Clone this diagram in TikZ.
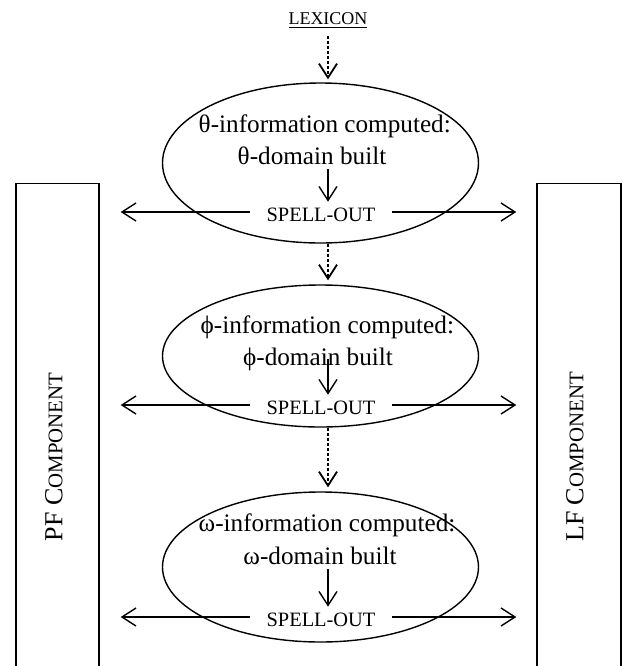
\documentclass[tikz,border=0pt]{standalone}
\usepackage{fontspec}
\setmainfont{Liberation Serif}
\usetikzlibrary{arrows.meta,shapes.geometric}

% faked small capitals
\newcommand{\smcaps}[2]{{\fontsize{13}{15}\selectfont #1}{\fontsize{10.4}{12}\selectfont #2}}

\begin{document}
\begin{tikzpicture}[
        x=0.5pt, y=-0.5pt, line width=0.7pt,
        >={Straight Barb[length=7pt,width=9pt]},
        stage/.style={draw, ellipse, minimum width=158pt, inner sep=0pt},
        txt/.style={font=\fontsize{12.6}{15}\selectfont, inner sep=0pt},
        caps/.style={font=\fontsize{10.2}{12}\selectfont, inner ysep=0pt, inner xsep=8pt, text height=9.6pt, text depth=0pt},
        comp/.style={draw, anchor=north, minimum height=270pt, inner sep=0pt},
        dots/.style={->, dash pattern=on 1.5pt off 1pt, line width=0.9pt}
    ]
        \clip (0,0) rectangle (623,666);
        % the two interface components
        \node[comp, minimum width=41.5pt] (pf) at (57.5,183) {};
        \node[comp, minimum width=42pt] (lf) at (579,183) {};
        \node[rotate=90] (pftext) at (54,457) {\smcaps{PF C}{OMPONENT}};
        \node[rotate=90] (lftext) at (575,457) {\smcaps{LF C}{OMPONENT}};

        \node[font=\fontsize{9}{11}\selectfont, inner sep=0pt] (lex) at (328,21) {\underline{LEXICON}};

        % stages
        \node[stage, minimum height=80pt] (e1) at (320.5,163) {};
        \node[stage, minimum height=71pt] (e2) at (320.5,356) {};
        \node[stage, minimum height=75pt] (e3) at (320.5,567) {};

        \node[txt, anchor=base west] (inf1) at (198,132) {θ-information computed:};
        \node[txt, anchor=base] (dom1) at (312,164) {θ-domain built};
        \node[caps] (so1) at (321,212) {SPELL-OUT};

        \node[txt, anchor=base west] (inf2) at (200,333) {ϕ-information computed:};
        \node[txt, anchor=base] (dom2) at (318,365) {ϕ-domain built};
        \node[caps] (so2) at (321,405) {SPELL-OUT};

        \node[txt, anchor=base west] (inf3) at (198,531) {ω-information computed:};
        \node[txt, anchor=base] (dom3) at (320,564) {ω-domain built};
        \node[caps] (so3) at (321,617) {SPELL-OUT};

        \draw[dots, shorten <=3pt, shorten >=1.5pt] (lex) -- (lex |- e1.north);
        \draw[->, shorten <=2pt] (dom1.south -| lex) -- (so1.north -| lex);
        \draw[dots, shorten >=2pt] (e1.south -| lex) -- (e2.north -| lex);
        \draw[->] (dom2 -| lex) -- (so2.north -| lex);
        \draw[dots, shorten >=2pt] (e2.south -| lex) -- (e3.north -| lex);
        \draw[->, shorten <=2pt] (dom3.south -| lex) -- (so3.north -| lex);

        \foreach \s in {so1,so2,so3}{
            \draw[->, shorten >=10.5pt] (\s.west) -- (\s.west -| pf.east);
            \draw[->, shorten >=10pt] (\s.east) -- (\s.east -| lf.west);
        }
    \end{tikzpicture}
\end{document}
